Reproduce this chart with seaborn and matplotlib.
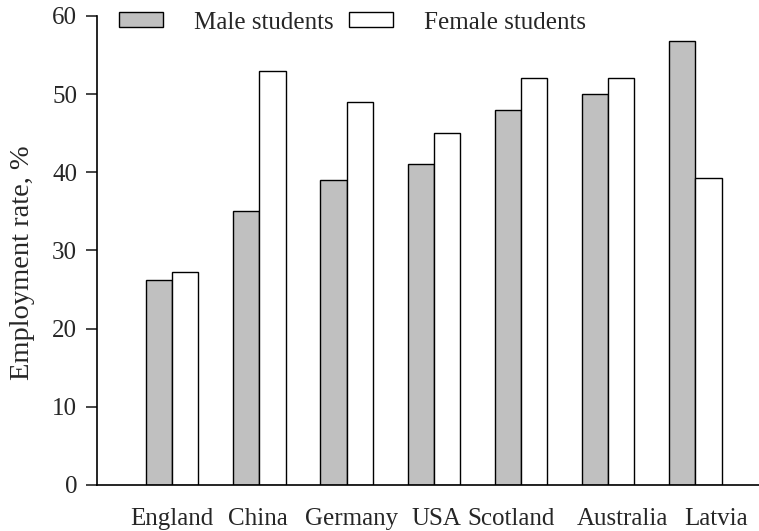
import matplotlib.pyplot as plt
import matplotlib.transforms as mtransforms
import pandas as pd
import seaborn as sns

# data
countries = ["England", "China", "Germany", "USA", "Scotland", "Australia", "Latvia"]
male = [26.2, 35, 39, 41, 48, 50, 56.8]
female = [27.2, 53, 49, 45, 52, 52, 39.2]
groups = ["Male students", "Female students"]
yticks = [0, 10, 20, 30, 40, 50, 60]

# the country names in the original are not exactly centred under the bars
label_shift_px = [0, -1, 5, 3, -10, 14, 21]

df = pd.DataFrame({
    "country": countries * 2,
    "rate": male + female,
    "group": [groups[0]] * len(male) + [groups[1]] * len(female),
})

sns.set_style("ticks")
plt.rcParams["font.family"] = ["Liberation Serif", "DejaVu Serif"]

fig = plt.figure(figsize=(7.59, 5.31), dpi=100)
ax = fig.add_axes([0.128, 0.087, 0.872, 0.883])

sns.barplot(data=df, x="country", y="rate", hue="group", order=countries,
            hue_order=groups, palette=["#c0c0c0", "white"], width=0.6,
            edgecolor="black", linewidth=1.0, saturation=1, ax=ax)

ax.set_ylim(0, 60)
ax.set_yticks(yticks)
ax.set_xlim(-0.86, 6.73)
ax.set_xlabel("")
ax.set_ylabel("Employment rate, %", fontsize=20.5)
ax.yaxis.set_label_coords(-0.094, 0.473)
ax.tick_params(axis="y", labelsize=18, length=8, width=1.2, direction="out", pad=6.5)
ax.tick_params(axis="x", labelsize=18, length=0, pad=16.5)
sns.despine(ax=ax)
for s in ["left", "bottom"]:
    ax.spines[s].set_linewidth(1.2)
    ax.spines[s].set_color("black")

for lab, dx in zip(ax.get_xticklabels(), label_shift_px):
    off = mtransforms.ScaledTranslation(dx / 100, 0, fig.dpi_scale_trans)
    lab.set_transform(lab.get_transform() + off)

handles, labels = ax.get_legend_handles_labels()
ax.legend(handles, labels, ncol=2, frameon=False, fontsize=18,
          loc="upper left", bbox_to_anchor=(0.033, 1.009),
          borderaxespad=0, borderpad=0,
          handlelength=1.76, handleheight=0.56, handletextpad=1.25,
          columnspacing=0.6)

fig.savefig("out.png", dpi=100)
